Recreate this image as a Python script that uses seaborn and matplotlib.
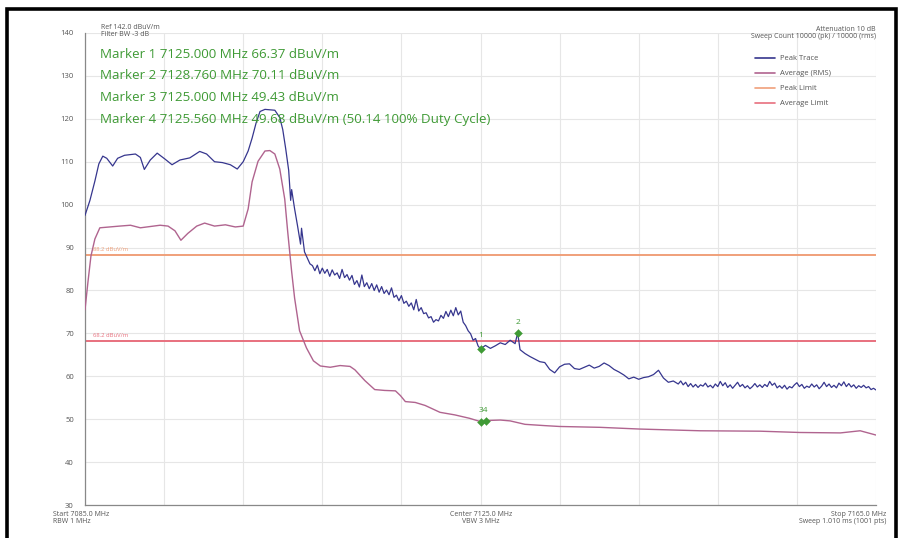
import numpy as np
import pandas as pd
import matplotlib
matplotlib.use("Agg")
import matplotlib.pyplot as plt
import seaborn as sns
from matplotlib.patches import Rectangle
from matplotlib.lines import Line2D

# ---------------- data ----------------
# Peak trace, part 1: main lobe (irregular sampling)
peak1_freq = [7085.0, 7085.5, 7086.0, 7086.4, 7086.8, 7087.2, 7087.8, 7088.3, 7089.0, 7090.1,
              7090.6, 7091.0, 7091.6, 7092.3, 7093.1, 7093.8, 7094.6, 7095.6, 7096.6, 7097.3,
              7098.1, 7098.9, 7099.7, 7100.4, 7101.0, 7101.5, 7101.9, 7102.3, 7102.7, 7103.2,
              7103.7, 7104.2, 7104.7, 7105.0, 7105.3, 7105.6, 7105.8, 7105.9, 7106.2, 7106.5,
              7106.8, 7106.9, 7107.2, 7107.5, 7107.75]
peak1_level = [97.5, 101.0, 105.5, 109.5, 111.3, 110.8, 109.0, 110.8, 111.5, 111.8,
               111.0, 108.2, 110.4, 112.0, 110.6, 109.3, 110.4, 110.9, 112.4, 111.8,
               110.0, 109.8, 109.3, 108.3, 110.0, 112.5, 115.5, 119.0, 121.7, 122.2,
               122.1, 122.0, 120.3, 117.5, 113.0, 108.0, 101.0, 103.5, 99.0, 95.0,
               90.8, 94.5, 89.0, 87.5, 86.2]

# Peak trace, part 2: noisy slope 7108.00 .. 7125.00 MHz, every 0.25 MHz
peak2_start, peak2_step = 7108.0, 0.25
peak2_level = [85.8, 84.6, 85.9, 83.9, 85.2, 84.0, 84.9, 83.3, 84.8, 83.6,
               84.1, 82.8, 84.9, 83.0, 83.7, 82.4, 83.5, 81.4, 82.3, 80.8,
               83.6, 80.9, 81.8, 80.4, 81.6, 80.0, 81.3, 79.6, 80.9, 79.3,
               80.1, 79.0, 80.6, 78.4, 78.9, 77.6, 78.8, 77.0, 77.5, 76.3,
               77.1, 75.5, 77.9, 75.2, 76.0, 74.6, 74.8, 73.6, 73.9, 72.6,
               73.2, 72.9, 74.2, 73.5, 75.1, 73.9, 75.4, 74.1, 76.0, 74.3,
               75.2, 72.6, 71.8, 70.6, 69.9, 68.4, 68.8, 67.1, 66.37]

# Peak trace, part 3: markers region 7125.5 .. 7144.5 MHz
peak3_freq = [7125.5, 7126.0, 7126.5, 7127.0, 7127.5, 7128.0, 7128.5, 7128.76, 7129.0, 7129.5,
              7130.0, 7130.5, 7131.0, 7131.5, 7132.0, 7132.5, 7133.0, 7133.5, 7134.0, 7134.5,
              7135.0, 7135.5, 7136.0, 7136.5, 7137.0, 7137.5, 7138.0, 7138.5, 7139.0, 7139.5,
              7140.0, 7140.5, 7141.0, 7141.5, 7142.0, 7142.5, 7143.0, 7143.5, 7144.0, 7144.5]
peak3_level = [67.2, 66.5, 67.1, 67.8, 67.4, 68.4, 67.6, 70.11, 66.2, 65.3,
               64.6, 64.0, 63.4, 63.2, 61.6, 60.8, 62.2, 62.8, 62.9, 61.8,
               61.6, 62.1, 62.6, 61.9, 62.3, 63.1, 62.5, 61.6, 61.0, 60.3,
               59.4, 59.8, 59.3, 59.7, 59.9, 60.4, 61.4, 59.6, 58.6, 58.9]

# Peak trace, part 4: noise floor 7145.00 .. 7165.00 MHz, every 0.25 MHz
peak4_start, peak4_step = 7145.0, 0.25
peak4_level = [58.2, 58.9, 58.0, 58.6, 57.6, 58.3, 57.5, 58.1, 57.4, 58.0,
               57.7, 58.4, 57.5, 57.9, 57.3, 58.2, 57.6, 58.8, 57.8, 58.5,
               57.4, 58.0, 57.2, 57.9, 58.6, 57.6, 58.1, 57.3, 57.8, 57.1,
               57.6, 58.3, 57.5, 58.0, 57.4, 58.1, 57.6, 58.8, 57.9, 58.4,
               57.3, 57.8, 57.2, 57.9, 57.0, 57.6, 57.3, 58.0, 58.5, 57.6,
               58.1, 57.2, 57.7, 57.4, 58.2, 57.5, 58.0, 57.1, 57.7, 58.6,
               57.6, 58.2, 57.4, 57.9, 57.3, 58.4, 57.8, 58.7, 57.6, 58.3,
               57.5, 58.0, 57.2, 57.8, 57.4, 57.9, 57.3, 57.6, 56.9, 57.2,
               56.8]

avg_freq = [7085.0, 7085.3, 7085.6, 7086.0, 7086.5, 7087.5, 7088.5, 7089.6, 7090.6, 7091.6,
            7092.6, 7093.4, 7094.1, 7094.7, 7095.4, 7096.3, 7097.1, 7098.1, 7099.2, 7100.2,
            7101.0, 7101.5, 7101.9, 7102.5, 7103.2, 7103.7, 7104.2, 7104.7, 7105.2, 7105.5,
            7105.9, 7106.2, 7106.7, 7107.4, 7108.1, 7108.8, 7109.8, 7110.8, 7111.8, 7112.3,
            7113.3, 7114.3, 7115.3, 7116.4, 7116.9, 7117.4, 7118.4, 7119.4, 7120.9, 7122.4,
            7123.9, 7125.0, 7125.56, 7127.0, 7128.0, 7129.5, 7131.5, 7133.0, 7137.1, 7141.1,
            7147.2, 7153.3, 7157.3, 7161.4, 7163.4, 7165.0]
avg_level = [75.5, 82.0, 88.0, 92.0, 94.6, 94.8, 95.0, 95.2, 94.6, 94.9,
             95.2, 95.0, 93.9, 91.7, 93.3, 95.0, 95.7, 95.0, 95.3, 94.8,
             95.0, 99.0, 105.3, 110.1, 112.5, 112.6, 111.8, 108.3, 101.3, 93.7,
             84.4, 78.2, 70.6, 66.6, 63.6, 62.4, 62.1, 62.5, 62.3, 61.5,
             59.0, 56.9, 56.7, 56.6, 55.5, 54.1, 53.9, 53.2, 51.6, 51.0,
             50.2, 49.43, 49.68, 49.8, 49.6, 48.8, 48.5, 48.3, 48.1, 47.7,
             47.3, 47.2, 46.9, 46.8, 47.3, 46.3]

limit_names = ["Peak Limit", "Average Limit"]
limit_levels = [88.2, 68.2]
limit_labels = ["88.2 dBuV/m", "68.2 dBuV/m"]

marker_ids = ["1", "2", "3", "4"]
marker_freq = [7125.000, 7128.760, 7125.000, 7125.560]
marker_level = [66.37, 70.11, 49.43, 49.68]
marker_texts = ["Marker 1 7125.000 MHz 66.37 dBuV/m",
                "Marker 2 7128.760 MHz 70.11 dBuV/m",
                "Marker 3 7125.000 MHz 49.43 dBuV/m",
                "Marker 4 7125.560 MHz 49.68 dBuV/m (50.14 100% Duty Cycle)"]

x_start, x_stop = 7085.0, 7165.0
y_ticks = [30, 40, 50, 60, 70, 80, 90, 100, 110, 120, 130, 140]

# ---------------- assemble ----------------
peak2_freq = list(peak2_start + peak2_step * np.arange(len(peak2_level)))
peak4_freq = list(peak4_start + peak4_step * np.arange(len(peak4_level)))
peak_df = pd.DataFrame({"freq": peak1_freq + peak2_freq + peak3_freq + peak4_freq,
                        "level": peak1_level + peak2_level + peak3_level + peak4_level})
avg_df = pd.DataFrame({"freq": avg_freq, "level": avg_level})

# ---------------- style ----------------
sns.set_theme(style="white")
plt.rcParams['font.family'] = ['Open Sans', 'DejaVu Sans']

C_PEAK = "#36368e"
C_AVG = "#b0648f"
C_PLIM = "#f0a07a"
C_ALIM = "#e8707e"
C_GREEN = "#3f9a35"
C_TXT = "#555555"

fig = plt.figure(figsize=(9.07, 5.38), dpi=100)
ax = fig.add_axes([85/907, 1-505/538, (876-85)/907, (505-33)/538])

for lvl, col in zip(limit_levels, [C_PLIM, C_ALIM]):
    lim_df = pd.DataFrame({"freq": [x_start, x_stop], "level": [lvl, lvl]})
    sns.lineplot(data=lim_df, x="freq", y="level", color=col, lw=1.4, ax=ax, zorder=2)

sns.lineplot(data=avg_df, x="freq", y="level", color=C_AVG, lw=1.0, ax=ax, zorder=3,
             sort=False, estimator=None)
sns.lineplot(data=peak_df, x="freq", y="level", color=C_PEAK, lw=0.9, ax=ax, zorder=4,
             sort=False, estimator=None)

mk_df = pd.DataFrame({"freq": marker_freq, "level": marker_level})
sns.scatterplot(data=mk_df, x="freq", y="level", marker="D", s=16, color=C_GREEN,
                edgecolor=C_GREEN, ax=ax, zorder=6)
ax.text(marker_freq[0], marker_level[0] + 2.2, "1", color=C_GREEN, fontsize=6,
        ha="center", va="bottom")
ax.text(marker_freq[1], marker_level[1] + 1.6, "2", color=C_GREEN, fontsize=6,
        ha="center", va="bottom")
ax.text((marker_freq[2] + marker_freq[3]) / 2, marker_level[3] + 1.6, "34", color=C_GREEN,
        fontsize=6, ha="center", va="bottom")

for lvl, lab, col in zip(limit_levels, limit_labels, [C_PLIM, C_ALIM]):
    ax.text(x_start + 0.8, lvl + 0.7, lab, color=col, fontsize=4.2, ha="left", va="bottom")

ax.set_xlim(x_start, x_stop)
ax.set_ylim(30, 140)
ax.set_xticks(np.arange(x_start, x_stop + 0.1, 8))
ax.set_xticklabels([])
ax.set_yticks(y_ticks)
ax.set_yticklabels([str(t) for t in y_ticks], fontsize=5.5, color=C_TXT)
ax.tick_params(axis="y", direction="out", length=7, width=0.8, color="#777777", pad=1)
ax.tick_params(axis="x", direction="inout", length=6, width=0.8, color="#777777")
ax.grid(True, color="#e6e6e6", lw=0.8)
ax.set_xlabel("")
ax.set_ylabel("")
for s in ["top", "right"]:
    ax.spines[s].set_visible(False)
for s in ["left", "bottom"]:
    ax.spines[s].set_color("#888888")
    ax.spines[s].set_linewidth(0.9)

ax.text(0.02, 1.005, "Ref 142.0 dBuV/m\nFilter BW -3 dB", transform=ax.transAxes,
        fontsize=5, color=C_TXT, ha="left", va="center", linespacing=1.0)
ax.text(1.0, 1.0, "Attenuation 10 dB\nSweep Count 10000 (pk) / 10000 (rms)",
        transform=ax.transAxes, fontsize=5, color=C_TXT, ha="right", va="center",
        linespacing=1.1)
for i, t in enumerate(marker_texts):
    fig.text(100/907, 1 - (54 + 21.7*i)/538, t, color=C_GREEN, fontsize=9.6,
             ha="left", va="center")

handles = [Line2D([], [], color=C_PEAK, lw=1.2), Line2D([], [], color=C_AVG, lw=1.2),
           Line2D([], [], color=C_PLIM, lw=1.2), Line2D([], [], color=C_ALIM, lw=1.2)]
leg = ax.legend(handles, ["Peak Trace", "Average (RMS)"] + limit_names,
                loc="upper left", bbox_to_anchor=(752/907, 1-52/538),
                bbox_transform=fig.transFigure, frameon=False, fontsize=5.5,
                handlelength=2.6, labelspacing=1.0, handletextpad=0.6, borderaxespad=0)
for t in leg.get_texts():
    t.set_color(C_TXT)

fig.text(53/907, 1-518/538, "Start 7085.0 MHz\nRBW 1 MHz", fontsize=5, color=C_TXT,
         ha="left", va="center", linespacing=1.1)
fig.text(481/907, 1-518/538, "Center 7125.0 MHz\nVBW 3 MHz", fontsize=5, color=C_TXT,
         ha="center", va="center", linespacing=1.1, multialignment="center")
fig.text(886/907, 1-518/538, "Stop 7165.0 MHz\nSweep 1.010 ms (1001 pts)", fontsize=5,
         color=C_TXT, ha="right", va="center", linespacing=1.1, multialignment="right")

fig.patches.append(Rectangle((7/907, -0.05), (896-7)/907, 1.05 - 9/538, fill=False,
                             lw=2.6, edgecolor="black", transform=fig.transFigure,
                             figure=fig))

fig.savefig("out.png", dpi=100)
